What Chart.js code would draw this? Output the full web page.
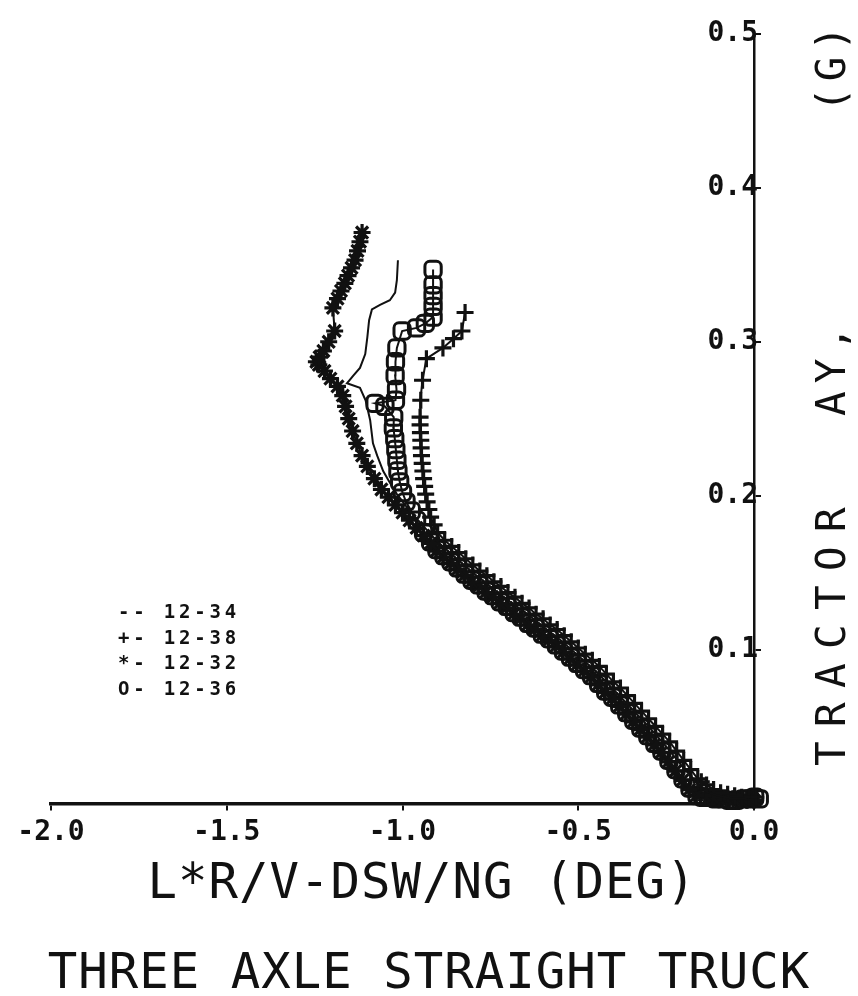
<!DOCTYPE html>
<html>
<head>
<meta charset="utf-8">
<script src="https://cdn.jsdelivr.net/npm/chart.js@4.4.1/dist/chart.umd.min.js"></script>
<style>
  html, body { margin: 0; padding: 0; background: #fff; }
  #wrap { width: 858px; height: 996px; position: relative; }
</style>
</head>
<body>
<div id="wrap"><canvas id="plot"></canvas></div>
<script>
// Datos: [x, y] = [L*R/V-DSW/NG (deg), AY (g)]
const run1234 = [[0.000,0.002],[-0.030,0.003],[-0.060,0.003],[-0.100,0.005],[-0.130,0.007],[-0.150,0.010],
  [-0.200,0.023],[-0.250,0.037],[-0.300,0.050],[-0.350,0.062],[-0.400,0.074],[-0.450,0.086],[-0.500,0.096],
  [-0.550,0.106],[-0.600,0.115],[-0.650,0.124],[-0.700,0.132],[-0.750,0.141],[-0.800,0.150],[-0.850,0.160],
  [-0.900,0.170],[-0.940,0.180],[-0.979,0.190],[-1.016,0.201],[-1.040,0.210],[-1.055,0.216],[-1.072,0.226],
  [-1.084,0.234],[-1.092,0.249],[-1.105,0.262],[-1.121,0.270],[-1.158,0.273],[-1.140,0.278],[-1.121,0.283],
  [-1.106,0.292],[-1.100,0.303],[-1.095,0.314],[-1.087,0.321],[-1.064,0.324],[-1.036,0.327],[-1.021,0.332],
  [-1.016,0.340],[-1.013,0.353]];

const run1238 = [[0.005,0.004],[-0.015,0.004],[-0.035,0.004],[-0.055,0.005],[-0.075,0.006],[-0.095,0.007],
  [-0.115,0.009],[-0.135,0.012],[-0.150,0.014],[-0.160,0.016],[-0.180,0.022],[-0.200,0.028],[-0.220,0.034],
  [-0.240,0.040],[-0.260,0.045],[-0.280,0.050],[-0.300,0.055],[-0.320,0.060],[-0.340,0.065],[-0.360,0.070],
  [-0.380,0.075],[-0.400,0.079],[-0.420,0.084],[-0.440,0.089],[-0.460,0.093],[-0.480,0.097],[-0.500,0.101],
  [-0.520,0.105],[-0.540,0.109],[-0.560,0.113],[-0.580,0.116],[-0.600,0.120],[-0.620,0.123],[-0.640,0.127],
  [-0.660,0.130],[-0.680,0.134],[-0.700,0.137],[-0.720,0.141],[-0.740,0.144],[-0.760,0.148],[-0.780,0.151],
  [-0.800,0.155],[-0.820,0.159],[-0.840,0.163],[-0.860,0.167],[-0.880,0.171],[-0.900,0.176],[-0.910,0.181],
  [-0.920,0.186],[-0.925,0.191],[-0.930,0.196],[-0.934,0.201],[-0.937,0.206],[-0.940,0.211],[-0.942,0.216],
  [-0.944,0.221],[-0.946,0.226],[-0.947,0.231],[-0.948,0.236],[-0.949,0.241],[-0.950,0.246],[-0.950,0.251],
  [-0.948,0.262],[-0.943,0.275],[-0.932,0.289],[-0.885,0.296],[-0.855,0.302],[-0.831,0.307],[-0.822,0.319]];

const run1232 = [[0.000,0.002],[-0.020,0.002],[-0.040,0.002],[-0.060,0.003],[-0.080,0.003],[-0.100,0.003],
  [-0.120,0.004],[-0.140,0.005],[-0.164,0.005],[-0.184,0.009],[-0.204,0.015],[-0.224,0.021],[-0.244,0.027],
  [-0.264,0.033],[-0.284,0.038],[-0.304,0.043],[-0.324,0.048],[-0.344,0.053],[-0.364,0.058],[-0.384,0.063],
  [-0.404,0.068],[-0.424,0.072],[-0.444,0.077],[-0.464,0.082],[-0.484,0.086],[-0.504,0.090],[-0.524,0.094],
  [-0.544,0.098],[-0.564,0.102],[-0.584,0.106],[-0.604,0.109],[-0.624,0.113],[-0.644,0.116],[-0.664,0.120],
  [-0.684,0.123],[-0.704,0.127],[-0.724,0.130],[-0.744,0.134],[-0.764,0.137],[-0.784,0.141],[-0.804,0.144],
  [-0.824,0.148],[-0.844,0.152],[-0.864,0.156],[-0.884,0.160],[-0.904,0.164],[-0.920,0.169],[-0.940,0.174],
  [-0.960,0.179],[-0.980,0.184],[-1.000,0.189],[-1.020,0.194],[-1.040,0.199],[-1.060,0.204],[-1.080,0.211],
  [-1.100,0.219],[-1.115,0.226],[-1.130,0.234],[-1.142,0.242],[-1.153,0.250],[-1.162,0.258],[-1.170,0.265],
  [-1.185,0.271],[-1.205,0.276],[-1.222,0.281],[-1.238,0.285],[-1.245,0.287],[-1.236,0.290],[-1.225,0.294],
  [-1.210,0.300],[-1.193,0.307],[-1.198,0.322],[-1.185,0.328],[-1.175,0.333],[-1.164,0.338],[-1.155,0.343],
  [-1.145,0.348],[-1.135,0.353],[-1.128,0.359],[-1.121,0.365],[-1.115,0.371]];

const run1236 = [[0.015,0.003],[0.002,0.004],[-0.012,0.003],[-0.030,0.003],[-0.050,0.002],[-0.070,0.002],
  [-0.090,0.003],[-0.110,0.003],[-0.130,0.004],[-0.146,0.004],[-0.162,0.005],[-0.182,0.010],[-0.202,0.016],
  [-0.222,0.022],[-0.242,0.028],[-0.262,0.034],[-0.282,0.039],[-0.302,0.044],[-0.322,0.049],[-0.342,0.054],
  [-0.362,0.059],[-0.382,0.064],[-0.402,0.069],[-0.422,0.073],[-0.442,0.078],[-0.462,0.083],[-0.482,0.087],
  [-0.502,0.091],[-0.522,0.095],[-0.542,0.099],[-0.562,0.103],[-0.582,0.107],[-0.602,0.110],[-0.622,0.114],
  [-0.642,0.117],[-0.662,0.121],[-0.682,0.124],[-0.702,0.128],[-0.722,0.131],[-0.742,0.135],[-0.762,0.138],
  [-0.782,0.142],[-0.802,0.145],[-0.822,0.149],[-0.842,0.153],[-0.862,0.157],[-0.882,0.161],[-0.902,0.165],
  [-0.920,0.170],[-0.940,0.176],[-0.960,0.184],[-0.975,0.190],[-0.990,0.196],[-1.000,0.202],[-1.008,0.209],
  [-1.013,0.216],[-1.016,0.223],[-1.019,0.230],[-1.022,0.237],[-1.026,0.244],[-1.025,0.251],[-1.050,0.258],
  [-1.078,0.260],[-1.020,0.262],[-1.017,0.269],[-1.021,0.278],[-1.020,0.287],[-1.016,0.296],[-1.001,0.307],
  [-0.960,0.309],[-0.935,0.312],[-0.913,0.316],[-0.913,0.323],[-0.913,0.330],[-0.913,0.337],[-0.913,0.347]];

const legendSymbols = ['--', '+-', '*-', 'O-'];
const legendNames = ['12-34', '12-38', '12-32', '12-36'];
const xTitle = 'L*R/V-DSW/NG (DEG)';
const yTitleParts = ['TRACTOR', 'AY,', '(G)'];
const chartTitle = 'THREE AXLE STRAIGHT TRUCK';

const INK = '#111';
const MONO = '"DejaVu Sans Mono", "Liberation Mono", monospace';
const toXY = (arr) => arr.map(([x, y]) => ({ x, y }));

// Textos de ejes, titulo y leyenda al estilo del trazador
const plotterText = {
  id: 'plotterText',
  afterDraw(chart) {
    const c = chart.ctx;
    c.save();
    c.fillStyle = INK;
    c.textBaseline = 'alphabetic';

    c.font = '49px ' + MONO;
    c.letterSpacing = '1px';
    c.textAlign = 'center';
    c.fillText(xTitle, 422, 898);
    c.fillText(chartTitle, 429, 988);

    // titulo vertical, se lee de abajo hacia arriba
    const starts = [766, 416, 112];
    const gaps = ['14.3px', '8px', '6px'];
    c.font = '41px ' + MONO;
    c.textAlign = 'left';
    yTitleParts.forEach((part, i) => {
      c.save();
      c.letterSpacing = gaps[i];
      c.translate(845, starts[i]);
      c.rotate(-Math.PI / 2);
      c.fillText(part, 0, 0);
      c.restore();
    });

    c.font = 'bold 19px ' + MONO;
    c.letterSpacing = '3.8px';
    c.textAlign = 'left';
    legendNames.forEach((name, i) => {
      c.fillText(legendSymbols[i] + ' ' + name, 118, 618 + i * 25.5);
    });
    c.restore();
  }
};

const gridStyle = { display: true, drawOnChartArea: false, drawTicks: true, tickLength: 7, color: INK, lineWidth: 2 };

new Chart(document.getElementById('plot'), {
  type: 'scatter',
  data: {
    datasets: [
      { label: '12-34', data: toXY(run1234), showLine: true, borderColor: INK, borderWidth: 2,
        pointRadius: 0, clip: false },
      { label: '12-38', data: toXY(run1238), showLine: true, borderColor: INK, borderWidth: 2,
        pointStyle: 'cross', pointRadius: 8.5, pointBorderWidth: 3.2, pointBorderColor: INK, clip: false },
      { label: '12-32', data: toXY(run1232), showLine: true, borderColor: INK, borderWidth: 2,
        pointStyle: 'star', pointRadius: 8.5, pointBorderWidth: 3.2, pointBorderColor: INK, clip: false },
      { label: '12-36', data: toXY(run1236), showLine: true, borderColor: INK, borderWidth: 2,
        pointStyle: 'rectRounded', pointRadius: 9.5, pointBorderWidth: 3, pointBorderColor: INK,
        pointBackgroundColor: 'rgba(0,0,0,0)', clip: false }
    ]
  },
  options: {
    responsive: true,
    maintainAspectRatio: false,
    animation: false,
    layout: { padding: { top: 34, left: 51, right: 89, bottom: 140 } },
    plugins: { legend: { display: false }, tooltip: { enabled: false }, title: { display: false } },
    scales: {
      x: {
        type: 'linear', position: 'bottom', min: -2, max: 0,
        border: { display: true, color: INK, width: 3.5 },
        grid: gridStyle,
        ticks: { stepSize: 0.5, color: INK, padding: 6, font: { family: MONO, size: 28, weight: 'bold' },
          callback: (v) => v.toFixed(1) }
      },
      y: {
        type: 'linear', position: 'right', min: 0, max: 0.5,
        border: { display: true, color: INK, width: 2.5 },
        grid: gridStyle,
        ticks: { stepSize: 0.1, mirror: true, color: INK, padding: 4, font: { family: MONO, size: 28, weight: 'bold' },
          callback: (v) => (v === 0 ? '' : v.toFixed(1)) }
      }
    }
  },
  plugins: [plotterText]
});
</script>
</body>
</html>
